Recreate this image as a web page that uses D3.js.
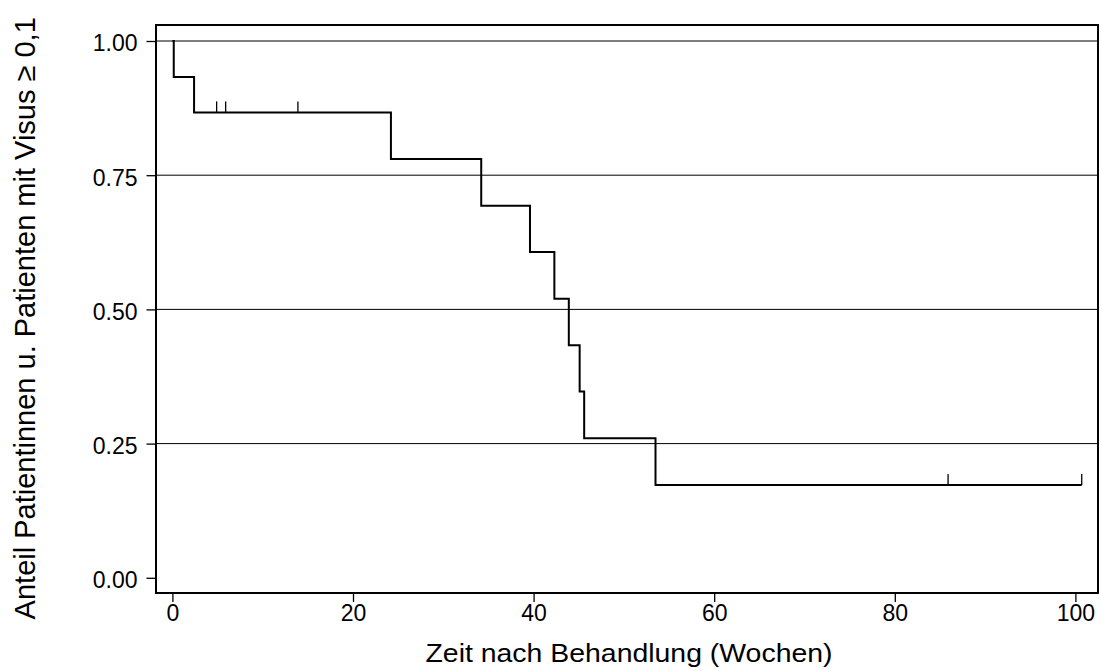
<!DOCTYPE html>
<html>
<head>
<meta charset="utf-8">
<script src="https://cdn.jsdelivr.net/npm/d3@7"></script>
<style>
  body { margin: 0; background: #fff; }
  text { font-family: "Liberation Sans", Arial, sans-serif; fill: #000; }
</style>
</head>
<body>
<div id="chart"></div>
<script>
var svgWidth = 1101;
var svgHeight = 671;

// Kaplan-Meier steps (weeks, share)
var eventTimes = [0.15, 2.4, 24.2, 34.2, 39.6, 42.3, 43.9, 45.1, 45.6, 53.5];
var survival = [0.933, 0.867, 0.780, 0.693, 0.607, 0.520, 0.433, 0.347, 0.260, 0.173];
var endTime = 100.7;

// censored observations
var censorTimes = [4.9, 5.9, 13.9, 85.9, 100.7];
var censorLevels = [0.867, 0.867, 0.867, 0.173, 0.173];

var xTicks = [0, 20, 40, 60, 80, 100];
var yTicks = [0, 0.25, 0.5, 0.75, 1];
var gridTicks = [0.25, 0.5, 0.75, 1];

var frame = { left: 156, right: 1098, top: 25, bottom: 593 };

var svg = d3.select("#chart")
  .append("svg")
  .attr("width", svgWidth)
  .attr("height", svgHeight);

var xScale = d3.scaleLinear()
  .domain([0, 100])
  .range([172.4, 1075.4]);

var yScale = d3.scaleLinear()
  .domain([0, 1])
  .range([577.8, 41]);

// gridlines
svg.append("g")
  .selectAll("line")
  .data(gridTicks)
  .enter()
  .append("line")
  .attr("x1", frame.left)
  .attr("x2", frame.right)
  .attr("y1", d => yScale(d))
  .attr("y2", d => yScale(d))
  .attr("stroke", "#000")
  .attr("stroke-width", 1);

// axes
var leftAxis = d3.axisLeft(yScale)
  .tickValues(yTicks)
  .tickFormat(d3.format(".2f"))
  .tickSize(9)
  .tickPadding(9);

var bottomAxis = d3.axisBottom(xScale)
  .tickValues(xTicks)
  .tickFormat(d3.format("d"))
  .tickSize(9)
  .tickPadding(3);

var yAxis = svg.append("g")
  .attr("transform", `translate(${frame.left - 0.5}, 0)`)
  .call(leftAxis);

var xAxis = svg.append("g")
  .attr("transform", `translate(0, ${frame.bottom})`)
  .call(bottomAxis);

[yAxis, xAxis].forEach(function(ax) {
  ax.select(".domain").remove();
  ax.selectAll("line").attr("stroke", "#000").attr("stroke-width", 1.3);
  ax.selectAll("text")
    .attr("font-family", "Liberation Sans, Arial, sans-serif")
    .attr("font-size", "23px")
    .attr("fill", "#000");
});
yAxis.selectAll("text").attr("dy", "0.43em");

// plot frame
svg.append("rect")
  .attr("x", frame.left)
  .attr("y", frame.top)
  .attr("width", frame.right - frame.left)
  .attr("height", frame.bottom - frame.top)
  .attr("fill", "none")
  .attr("stroke", "#000")
  .attr("stroke-width", 2);

// survival curve
var stepData = [[0, 1]];
eventTimes.forEach(function(t, i) {
  stepData.push([t, survival[i]]);
});
stepData.push([endTime, survival[survival.length - 1]]);

var stepLine = d3.line()
  .x(d => xScale(d[0]))
  .y(d => yScale(d[1]))
  .curve(d3.curveStepAfter);

svg.append("path")
  .datum(stepData)
  .attr("d", stepLine)
  .attr("fill", "none")
  .attr("stroke", "#000")
  .attr("stroke-width", 2);

// censor marks
svg.append("g")
  .selectAll("line")
  .data(censorTimes)
  .enter()
  .append("line")
  .attr("x1", d => xScale(d))
  .attr("x2", d => xScale(d))
  .attr("y1", (d, i) => yScale(censorLevels[i]))
  .attr("y2", (d, i) => yScale(censorLevels[i]) - 11)
  .attr("stroke", "#000")
  .attr("stroke-width", 1.3);

// axis titles
svg.append("text")
  .attr("x", 629)
  .attr("y", 661.5)
  .attr("text-anchor", "middle")
  .attr("font-size", "26px")
  .attr("textLength", 407)
  .attr("lengthAdjust", "spacingAndGlyphs")
  .text("Zeit nach Behandlung (Wochen)");

svg.append("text")
  .attr("transform", "translate(35, 318.3) rotate(-90)")
  .attr("text-anchor", "middle")
  .attr("font-size", "29px")
  .text("Anteil Patientinnen u. Patienten mit Visus ≥ 0,1");
</script>
</body>
</html>
